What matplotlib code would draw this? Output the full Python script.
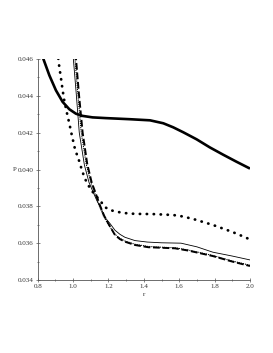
import numpy as np
import matplotlib
matplotlib.use('Agg')
import matplotlib.pyplot as plt
from matplotlib.ticker import MultipleLocator

# thick solid curve
r_thick = [0.82, 0.828, 0.866, 0.903, 0.941, 0.979, 1.016, 1.054, 1.11, 1.186, 1.322, 1.435, 1.51, 1.566,
           1.623, 1.698, 1.773, 1.849, 1.924, 2.0]
p_thick = [0.0464, 0.04611, 0.04511, 0.0443, 0.04367, 0.04327, 0.04303, 0.04291, 0.04283, 0.04279, 0.04273,
           0.04267, 0.04251, 0.04229, 0.04202, 0.04164, 0.0412, 0.0408, 0.04042, 0.04005]

# big dotted curve
r_dots = [0.912, 0.922, 0.932, 0.941, 0.950, 0.964, 0.979, 0.992, 1.011, 1.033, 1.049, 1.063, 1.077, 1.101,
          1.133, 1.155, 1.176, 1.208, 1.246, 1.284, 1.35, 1.45, 1.565, 1.62, 1.68, 1.79, 1.90, 1.97, 2.0]
p_dots = [0.0464, 0.04557, 0.04493, 0.0443, 0.04376, 0.04312, 0.04249, 0.0419, 0.0411, 0.0405, 0.0400,
          0.0396, 0.0393, 0.0389, 0.03852, 0.0383, 0.03798, 0.0378, 0.03771, 0.03764, 0.03759, 0.03758,
          0.03753, 0.03745, 0.03731, 0.03699, 0.03661, 0.03633, 0.0362]

# thin solid curve
r_thin = [0.999, 1.018, 1.035, 1.064, 1.09, 1.112, 1.135, 1.16, 1.18, 1.21, 1.237, 1.265, 1.293, 1.35,
          1.42, 1.5, 1.61, 1.7, 1.79, 1.9, 2.0]
p_thin = [0.0463, 0.0441, 0.0420, 0.04024, 0.0393, 0.0388, 0.0383, 0.03785, 0.0374, 0.03705, 0.0367,
          0.03648, 0.03632, 0.03614, 0.03606, 0.03602, 0.0360, 0.0358, 0.03551, 0.0353, 0.03509]

# fine dotted curve
r_fine = [1.008, 1.027, 1.046, 1.074, 1.1, 1.123, 1.145, 1.17, 1.195, 1.237, 1.265, 1.293, 1.35, 1.425,
          1.5, 1.576, 1.65, 1.79, 1.9, 2.0]
p_fine = [0.0463, 0.0441, 0.0420, 0.0403, 0.0393, 0.0387, 0.0381, 0.0375, 0.03708, 0.03648, 0.03626,
          0.03612, 0.03594, 0.03582, 0.03578, 0.03575, 0.03563, 0.03533, 0.03503, 0.0348]

# long dashed curve
r_dash = [1.014, 1.033, 1.054, 1.08, 1.105, 1.128, 1.15, 1.175, 1.2, 1.237, 1.265, 1.293, 1.35, 1.425,
          1.5, 1.576, 1.65, 1.79, 1.9, 2.0]
p_dash = [0.0463, 0.0441, 0.0420, 0.0403, 0.0393, 0.0387, 0.0381, 0.0375, 0.03705, 0.03644, 0.03622,
          0.03608, 0.0359, 0.03578, 0.03575, 0.03572, 0.0356, 0.0353, 0.0350, 0.03476]

x_ticks = [0.8, 1.0, 1.2, 1.4, 1.6, 1.8, 2.0]
y_ticks = [0.034, 0.036, 0.038, 0.040, 0.042, 0.044, 0.046]

plt.rcParams['font.family'] = ['Liberation Serif', 'DejaVu Serif']

fig = plt.figure(figsize=(2.73, 3.53), dpi=100)
ax = fig.add_axes([37.7 / 273, 73 / 353, 212.3 / 273, 221 / 353])

ax.plot(r_thick, p_thick, color='black', lw=1.9, solid_capstyle='butt', solid_joinstyle='round')
ax.plot(r_dots, p_dots, color='black', lw=2.0, linestyle=(0, (0.1, 2.4)), dash_capstyle='round')
ax.plot(r_thin, p_thin, color='black', lw=0.6)
ax.plot(r_fine, p_fine, color='black', lw=0.9, linestyle=(0, (0.1, 1.6)), dash_capstyle='round')
ax.plot(r_dash, p_dash, color='black', lw=1.4, linestyle=(0, (3.5, 1.4)))

ax.set_xlim(0.8, 2.0)
ax.set_ylim(0.034, 0.046)
ax.set_xticks(x_ticks)
ax.set_yticks(y_ticks)
ax.set_xticklabels([f"{v:.1f}" for v in x_ticks])
ax.set_yticklabels([f"{v:.3f}" for v in y_ticks])
ax.xaxis.set_minor_locator(MultipleLocator(0.1))
ax.yaxis.set_minor_locator(MultipleLocator(0.001))
ax.tick_params(which='both', direction='inout', length=3, width=0.5, labelsize=5, pad=1.5, colors='#555555',
               labelcolor='#333333')
ax.tick_params(which='minor', length=2)

for side in ['top', 'right']:
    ax.spines[side].set_visible(False)
for side in ['left', 'bottom']:
    ax.spines[side].set_linewidth(0.6)
    ax.spines[side].set_color('#555555')

ax.set_xlabel('r', fontsize=5, labelpad=2, color='#333333')
ax.set_ylabel('P', fontsize=5, rotation=0, labelpad=2, color='#333333', va='center')

fig.savefig('out.png', dpi=100)
